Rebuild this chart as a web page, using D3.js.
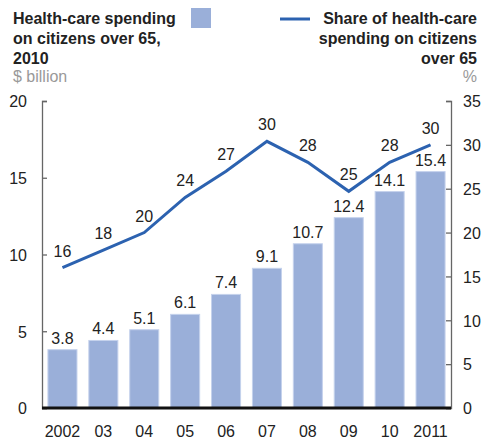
<!DOCTYPE html>
<html>
<head>
<meta charset="utf-8">
<script src="https://cdn.jsdelivr.net/npm/d3@7"></script>
<style>
  body { margin: 0; background: #fff; }
  svg text { font-family: "Liberation Sans", Arial, sans-serif; }
</style>
</head>
<body>
<svg id="chart" width="484" height="445"></svg>
<script>
const years = ["2002", "03", "04", "05", "06", "07", "08", "09", "10", "2011"];
const spending = [3.8, 4.4, 5.1, 6.1, 7.4, 9.1, 10.7, 12.4, 14.1, 15.4];
const share = [16, 18, 20, 24, 27, 30.4, 28, 24.7, 28, 30];
const shareLabels = ["16", "18", "20", "24", "27", "30", "28", "25", "28", "30"];
const leftTicks = [0, 5, 10, 15, 20];
const rightTicks = [0, 5, 10, 15, 20, 25, 30, 35];
const leftTitle = ["Health-care spending", "on citizens over 65,", "2010"];
const rightTitle = ["Share of health-care", "spending on citizens", "over 65"];

const svg = d3.select("#chart");
const x0 = 42, x1 = 451, yTop = 101, yBot = 408;
const barColor = "#9aafd9", lineColor = "#2c62b0", textColor = "#222";
const fs = 16;

const x = d3.scaleBand().domain(years).range([x0, x1]).paddingInner(0.29).paddingOuter(0.145);
const yL = d3.scaleLinear().domain([0, 20]).range([yBot, yTop]);
const yR = d3.scaleLinear().domain([0, 35]).range([yBot, yTop]);

// Titles
const lt = svg.append("text").attr("x", 13).attr("y", 24).attr("font-weight", "bold").attr("font-size", fs).attr("fill", textColor);
leftTitle.forEach((t, i) => lt.append("tspan").attr("x", 13).attr("dy", i === 0 ? 0 : 20).text(t));
svg.append("text").attr("x", 13).attr("y", 82).attr("font-size", fs).attr("fill", "#999").text("$ billion");

const rt = svg.append("text").attr("x", 477).attr("y", 24).attr("text-anchor", "end").attr("font-weight", "bold").attr("font-size", fs).attr("fill", textColor);
rightTitle.forEach((t, i) => rt.append("tspan").attr("x", 477).attr("dy", i === 0 ? 0 : 20).text(t));
svg.append("text").attr("x", 477).attr("y", 82).attr("text-anchor", "end").attr("font-size", fs).attr("fill", "#999").text("%");

// Legend marks
svg.append("rect").attr("x", 191).attr("y", 8).attr("width", 20).attr("height", 20).attr("fill", barColor);
svg.append("line").attr("x1", 280).attr("x2", 310).attr("y1", 19).attr("y2", 19).attr("stroke", lineColor).attr("stroke-width", 3);

// Bars
svg.selectAll("rect.bar").data(spending).join("rect").attr("class", "bar")
  .attr("x", (d, i) => x(years[i]))
  .attr("y", d => yL(d))
  .attr("width", x.bandwidth())
  .attr("height", d => yBot - yL(d))
  .attr("fill", barColor)
  .attr("stroke", "#c5d2ec").attr("stroke-width", 1);

svg.selectAll("text.barlbl").data(spending).join("text").attr("class", "barlbl")
  .attr("x", (d, i) => x(years[i]) + x.bandwidth() / 2)
  .attr("y", d => yL(d) - 6)
  .attr("text-anchor", "middle").attr("font-size", fs).attr("fill", textColor)
  .text(d => d.toFixed(1));

// Axes
const axL = d3.axisLeft(yL).tickValues(leftTicks).tickSize(-5).tickPadding(15);
const gL = svg.append("g").attr("transform", `translate(${x0},0)`).call(axL);
const axR = d3.axisRight(yR).tickValues(rightTicks).tickSize(-5).tickPadding(12);
const gR = svg.append("g").attr("transform", `translate(${x1},0)`).call(axR);
[gL, gR].forEach(g => {
  g.select(".domain").attr("stroke", "#666").attr("stroke-width", 1.3);
  g.selectAll(".tick line").attr("stroke", "#666").attr("stroke-width", 1.3);
  g.selectAll(".tick text").attr("font-size", fs).attr("fill", textColor)
    .attr("font-family", "Liberation Sans, Arial, sans-serif").attr("dy", "0.36em");
});

// Line
const line = d3.line().x((d, i) => x(years[i]) + x.bandwidth() / 2).y(d => yR(d));
svg.append("path").datum(share).attr("d", line).attr("fill", "none")
  .attr("stroke", lineColor).attr("stroke-width", 3).attr("stroke-linejoin", "miter");

svg.selectAll("text.linelbl").data(share).join("text").attr("class", "linelbl")
  .attr("x", (d, i) => x(years[i]) + x.bandwidth() / 2)
  .attr("y", d => yR(d) - 11)
  .attr("text-anchor", "middle").attr("font-size", fs).attr("fill", textColor)
  .text((d, i) => shareLabels[i]);

// Baseline
svg.append("line").attr("x1", x0).attr("x2", x1).attr("y1", yBot).attr("y2", yBot)
  .attr("stroke", "#111").attr("stroke-width", 3);

// X labels
svg.selectAll("text.xlbl").data(years).join("text").attr("class", "xlbl")
  .attr("x", d => x(d) + x.bandwidth() / 2)
  .attr("y", 437)
  .attr("text-anchor", "middle").attr("font-size", fs).attr("fill", textColor)
  .text(d => d);
</script>
</body>
</html>
